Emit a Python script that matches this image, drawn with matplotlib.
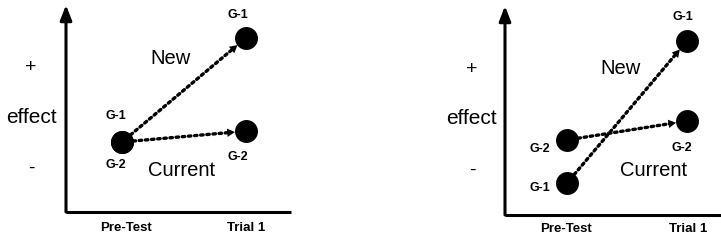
import matplotlib
matplotlib.use("Agg")
import matplotlib.pyplot as plt

plt.rcParams['font.family'] = ['Liberation Sans', 'DejaVu Sans']

W, H = 721, 242

# x positions: Pre-Test = 1, Trial 1 = 2
x_pre, x_trial = 1, 2
xtick_labels = ["Pre-Test", "Trial 1"]

# panel 1 effect values (0..10 scale)
p1_pre = {"G-1": 3.38, "G-2": 3.38}
p1_trial = {"G-1": 8.41, "G-2": 3.91}

# panel 2 effect values
p2_pre = {"G-1": 1.53, "G-2": 3.59}
p2_trial = {"G-1": 8.33, "G-2": 4.50}

fig = plt.figure(figsize=(W / 100, H / 100), dpi=100)


def px_box(left, right, top, bottom):
    return [left / W, 1 - bottom / H, (right - left) / W, (bottom - top) / H]


def fpx(x, y):
    return (x / W, 1 - y / H)


def draw_panel(box, xlim, pre, trial, texts):
    ax = fig.add_axes(px_box(*box))
    ax.set_xlim(*xlim)
    ax.set_ylim(0, 10)
    ax.axis("off")
    # axes lines
    ax.annotate("", xy=(0, 1), xytext=(0, 0), xycoords="axes fraction",
                arrowprops=dict(arrowstyle="-|>,head_length=0.9,head_width=0.35",
                                lw=2.2, color="black", shrinkA=0, shrinkB=0))
    ax.plot([0, 1], [0, 0], color="black", lw=2.2, transform=ax.transAxes,
            clip_on=False, solid_capstyle="butt")
    # dotted arrows with solid heads
    for g in ["G-1", "G-2"]:
        ax.annotate("", xy=(x_trial, trial[g]), xytext=(x_pre, pre[g]),
                    arrowprops=dict(arrowstyle="-", lw=2.4,
                                    linestyle=(0, (0.75, 1.1)), color="black",
                                    shrinkA=8, shrinkB=12))
        t = 0.5
        hx = x_pre + t * (x_trial - x_pre)
        hy = pre[g] + t * (trial[g] - pre[g])
        ax.annotate("", xy=(x_trial, trial[g]), xytext=(hx, hy),
                    arrowprops=dict(arrowstyle="-|>,head_length=0.55,head_width=0.3",
                                    lw=0.01, color="black", shrinkA=0, shrinkB=8))
    # points
    xs = [x_pre] * 2 + [x_trial] * 2
    ys = [pre["G-1"], pre["G-2"], trial["G-1"], trial["G-2"]]
    ax.plot(xs, ys, "o", color="black", ms=15.5, clip_on=False, zorder=5)
    for s, (x, y), size, weight in texts:
        fig.text(*fpx(x, y), s, ha="center", va="center", fontsize=size,
                 fontweight=weight)


texts1 = [
    ("+", (31, 68), 14, "normal"),
    ("effect", (31, 118), 15, "normal"),
    ("-", (31, 168), 14, "normal"),
    ("New", (170, 58), 14.5, "normal"),
    ("Current", (182, 170), 14.5, "normal"),
    ("G-1", (116, 116), 9, "bold"),
    ("G-2", (116, 165), 9, "bold"),
    ("G-1", (238, 15), 9, "bold"),
    ("G-2", (238, 157), 9, "bold"),
    (xtick_labels[0], (126, 228), 9.5, "bold"),
    (xtick_labels[1], (246, 228), 9.5, "bold"),
]
texts2 = [
    ("+", (472, 70), 14, "normal"),
    ("effect", (471, 119), 15, "normal"),
    ("-", (472, 170), 14, "normal"),
    ("New", (620, 68), 14.5, "normal"),
    ("Current", (654, 171), 14.5, "normal"),
    ("G-2", (540, 149), 9, "bold"),
    ("G-1", (540, 188), 9, "bold"),
    ("G-1", (683, 17), 9, "bold"),
    ("G-2", (682, 148), 9, "bold"),
    (xtick_labels[0], (566, 229), 9.5, "bold"),
    (xtick_labels[1], (688, 229), 9.5, "bold"),
]

draw_panel((66, 291, 5, 212), (0.548, 2.363), p1_pre, p1_trial, texts1)
draw_panel((505, 721, 6, 215), (0.483, 2.283), p2_pre, p2_trial, texts2)

fig.savefig("out.png", dpi=100)
